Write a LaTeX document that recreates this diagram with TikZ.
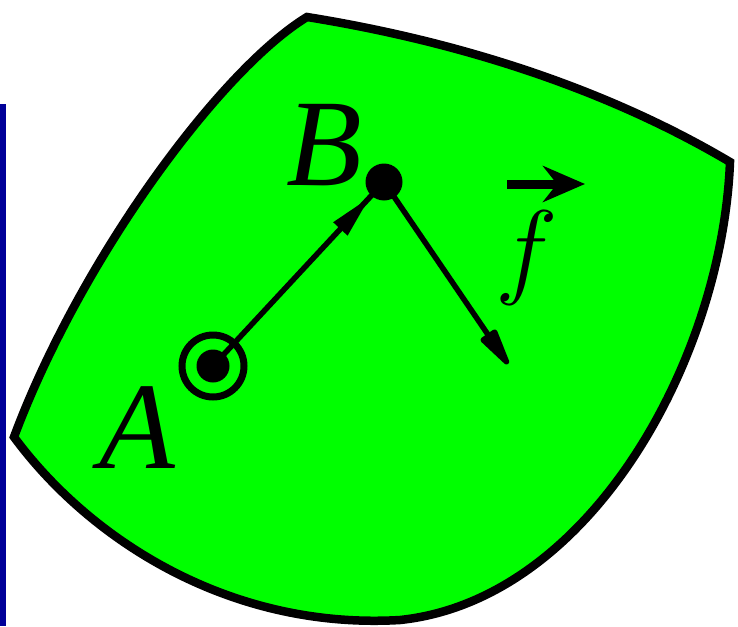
\RequirePackage{fix-cm}
\documentclass[tikz,border=0pt]{standalone}
\usepackage{fontspec}
\setmainfont{Liberation Serif}
\usetikzlibrary{arrows.meta,decorations.markings}
\definecolor{regiongreen}{RGB}{0,255,0}
\definecolor{barblue}{RGB}{0,0,153}
\begin{document}
\begin{tikzpicture}[x=1pt,y=-1pt,
  pdot/.style={circle,fill=black,inner sep=0pt,minimum size=#1},
  ringnode/.style={circle,draw=black,line width=7pt,inner sep=0pt,minimum size=62pt},
  lbl/.style={inner sep=0pt,anchor=base,font=\fontsize{124}{124}\selectfont\itshape},
  flbl/.style={inner sep=0pt,anchor=base,font=\fontsize{106}{106}\selectfont},
  conn/.style={line width=5.5pt,draw=black},
  outline/.style={line width=8.5pt,draw=black,fill=regiongreen}]
\useasboundingbox (0,0) rectangle (738,626);
\fill[barblue] (0,104) rectangle (6,626);
\path[outline] (307,17) .. controls (450,40) and (600,85) .. (730,162)
  .. controls (722,360) and (590,600) .. (400,620)
  .. controls (230,630) and (90,540) .. (14,437)
  .. controls (80,260) and (220,70) .. cycle;
\node[ringnode] (ring) at (213,366) {};
\node[pdot=33pt] (A) at (213,366) {};
\node[pdot=37pt] (B) at (384,182) {};
\coordinate (C) at (508,364);
\draw[conn, postaction={decorate},
  decoration={markings, mark=at position 0.92 with {\arrow{Triangle[length=44pt,width=18pt]}}}]
  (A.center) -- (B.center);
\draw[conn, -{Triangle[length=48pt,width=19pt,round]}] (B.center) -- (C);
\node[lbl] (labA) at (137,468) {A};
\node[lbl] (labB) at (324,185) {B};
\node[flbl] (labf) at (527,284) {$f$};
\coordinate (fv1) at (507,184);
\coordinate (fv2) at (585,184);
\draw[line width=9pt, -{Stealth[length=42pt,width=36pt,inset=14pt]}] (fv1) -- (fv2);
\end{tikzpicture}
\end{document}
